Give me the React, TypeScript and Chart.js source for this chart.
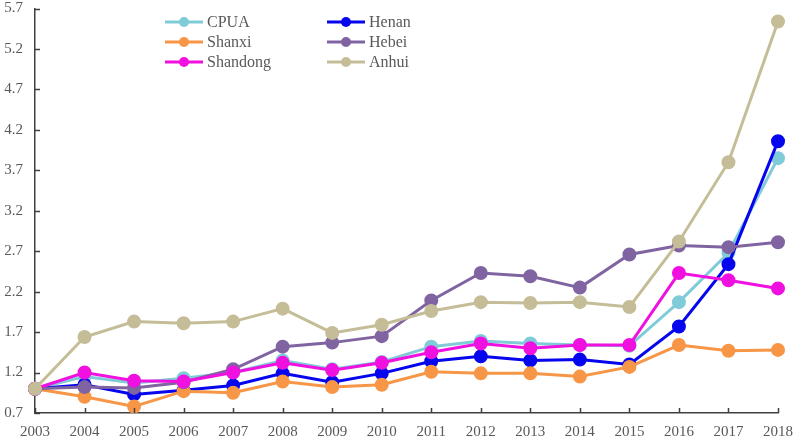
import React, { useEffect, useRef } from "react";
import { Chart, registerables } from "chart.js";

Chart.register(...registerables);

const years = ["2003","2004","2005","2006","2007","2008","2009","2010","2011","2012","2013","2014","2015","2016","2017","2018"];
const cpua = [1.0, 1.15, 1.07, 1.13, 1.2, 1.35, 1.24, 1.33, 1.52, 1.59, 1.56, 1.54, 1.53, 2.07, 2.68, 3.85];
const henan = [1.0, 1.05, 0.93, 0.98, 1.04, 1.19, 1.08, 1.19, 1.34, 1.4, 1.35, 1.36, 1.3, 1.77, 2.54, 4.06];
const shanxi = [1.0, 0.9, 0.78, 0.97, 0.95, 1.09, 1.02, 1.05, 1.21, 1.19, 1.19, 1.15, 1.27, 1.54, 1.47, 1.48];
const hebei = [1.0, 1.02, 1.01, 1.08, 1.24, 1.52, 1.57, 1.65, 2.09, 2.43, 2.39, 2.25, 2.66, 2.77, 2.75, 2.81];
const shandong = [1.0, 1.2, 1.1, 1.09, 1.2, 1.32, 1.23, 1.32, 1.45, 1.56, 1.5, 1.54, 1.54, 2.43, 2.34, 2.24];
const anhui = [1.0, 1.64, 1.83, 1.81, 1.83, 1.99, 1.69, 1.79, 1.96, 2.07, 2.06, 2.07, 2.01, 2.82, 3.8, 5.54];

const seriesNames = ["CPUA", "Henan", "Shanxi", "Hebei", "Shandong", "Anhui"];
const seriesColors = ["#80cbd8", "#0505ee", "#f79646", "#8064a2", "#f010e0", "#c4bd97"];
const seriesValues = [cpua, henan, shanxi, hebei, shandong, anhui];
const seriesOrder = [6, 5, 4, 3, 2, 1];

const FONT = "'Liberation Serif', 'Times New Roman', serif";
const TEXT = "#595959";
const AXIS = "#404040";

const innerTicks = {
  id: "innerTicks",
  afterDatasetsDraw(chart: any) {
    const { ctx, chartArea, scales } = chart;
    ctx.save();
    ctx.strokeStyle = AXIS;
    ctx.lineWidth = 1.5;
    const x = scales.x;
    const y = scales.y;
    ctx.beginPath();
    x.ticks.forEach((_t: any, i: number) => {
      const px = Math.round(x.getPixelForTick(i)) + 0.5;
      ctx.moveTo(px, chartArea.bottom);
      ctx.lineTo(px, chartArea.bottom - 5);
    });
    y.ticks.forEach((_t: any, i: number) => {
      const py = Math.round(y.getPixelForTick(i)) + 0.5;
      ctx.moveTo(chartArea.left, py);
      ctx.lineTo(chartArea.left + 5, py);
    });
    ctx.stroke();
    ctx.restore();
  },
};

const customLegend = {
  id: "customLegend",
  afterDraw(chart: any) {
    const { ctx } = chart;
    const cols = [165, 327];
    const rows = [22, 42, 62];
    ctx.save();
    ctx.font = `16px ${FONT}`;
    ctx.textBaseline = "middle";
    ctx.textAlign = "left";
    chart.data.datasets.forEach((ds: any, i: number) => {
      const cx = cols[i % 2];
      const cy = rows[Math.floor(i / 2)];
      ctx.strokeStyle = ds.borderColor;
      ctx.lineWidth = 3;
      ctx.beginPath();
      ctx.moveTo(cx, cy);
      ctx.lineTo(cx + 38, cy);
      ctx.stroke();
      ctx.fillStyle = ds.borderColor;
      ctx.beginPath();
      ctx.arc(cx + 19, cy, 5, 0, Math.PI * 2);
      ctx.fill();
      ctx.fillStyle = TEXT;
      ctx.fillText(ds.label, cx + 42, cy + 1);
    });
    ctx.restore();
  },
};

export default function App() {
  const ref = useRef<HTMLCanvasElement | null>(null);
  useEffect(() => {
    document.body.style.margin = "0";
    if (!ref.current) return;
    const chart = new Chart(ref.current, {
      type: "line",
      data: {
        labels: years,
        datasets: seriesNames.map((name, i) => ({
          label: name,
          data: seriesValues[i],
          borderColor: seriesColors[i],
          backgroundColor: seriesColors[i],
          pointBackgroundColor: seriesColors[i],
          pointBorderColor: seriesColors[i],
          borderWidth: 3,
          pointRadius: 5.5,
          pointHoverRadius: 5.5,
          tension: 0,
          order: seriesOrder[i],
        })),
      },
      options: {
        animation: false,
        responsive: false,
        maintainAspectRatio: false,
        layout: { padding: { top: 7, right: 18, left: 0, bottom: 0 } },
        plugins: {
          legend: { display: false },
          tooltip: { enabled: false },
        },
        scales: {
          x: {
            offset: false,
            grid: { display: false, drawTicks: false },
            border: { display: true, color: AXIS, width: 1.5 },
            ticks: {
              color: TEXT,
              font: { family: FONT, size: 15 },
              padding: 10,
              maxRotation: 0,
              autoSkip: false,
            },
            afterFit(scale: any) {
              scale.height = 28;
              scale.paddingLeft = 0;
              scale.paddingRight = 0;
            },
          },
          y: {
            min: 0.7,
            max: 5.7,
            grid: { display: false, drawTicks: false },
            border: { display: true, color: AXIS, width: 1.5 },
            ticks: {
              stepSize: 0.5,
              color: TEXT,
              font: { family: FONT, size: 15 },
              padding: 12,
              callback: (v: any) => Number(v).toFixed(1),
            },
            afterFit(scale: any) {
              scale.width = 35;
              scale.paddingTop = 0;
              scale.paddingBottom = 0;
            },
          },
        },
      },
      plugins: [innerTicks, customLegend],
    });
    return () => chart.destroy();
  }, []);
  return <canvas ref={ref} width={796} height={441} style={{ display: "block" }} />;
}
